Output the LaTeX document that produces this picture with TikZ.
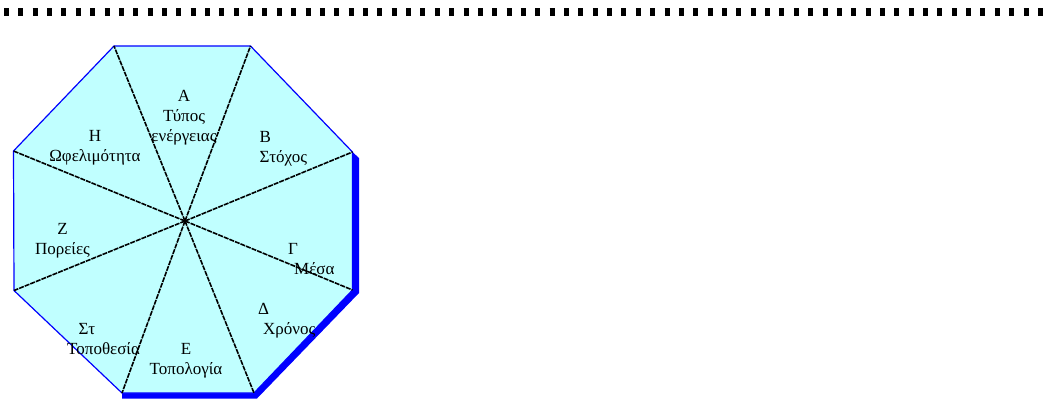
\documentclass[tikz,border=0pt]{standalone}
\usepackage{fontspec}
\setmainfont{Liberation Serif}
\usepackage{xcolor}
\usepackage{tikz}
\definecolor{octfill}{RGB}{192,255,255}
\definecolor{octedge}{RGB}{0,0,255}
\tikzset{
  spoke/.style={draw=black, line width=1.6pt, dash pattern=on 5pt off 1pt},
  lbl/.style={inner sep=0pt, align=center}
}

\begin{document}
\begin{tikzpicture}[x=1pt, y=-1pt, font=\fontsize{17}{20}\selectfont]
  \useasboundingbox (0,0) rectangle (1047,400);

  % Διακεκομμένη γραμμή
  \coordinate (dl) at (4,11.5);
  \coordinate (dr) at (1047,11.5);
  \draw[line width=8pt, dash pattern=on 5pt off 9.36pt] (dl) -- (dr);

  % Οκτάγωνο
  \coordinate (P1) at (114,46);
  \coordinate (P2) at (250.5,46);
  \coordinate (P3) at (352.5,152);
  \coordinate (P4) at (352.5,290);
  \coordinate (P5) at (254,393);
  \coordinate (P6) at (122,393);
  \coordinate (P7) at (14,290.5);
  \coordinate (P8) at (13.5,151);
  \coordinate (O) at (185,221);
  \fill[octedge] (P3) -- (359,158) -- (359,293) -- (257,398.5) -- (122,398.5)
    -- (P6) -- (P5) -- (P4) -- cycle;
  \draw[octedge, fill=octfill, line width=1.2pt]
    (P1) -- (P2) -- (P3) -- (P4) -- (P5) -- (P6) -- (P7) -- (P8) -- cycle;
  \foreach \i in {1,...,8}
    \draw[spoke] (O) -- (P\i);
  \fill (O) circle (2pt);

  % Τομείς
  \node[lbl, anchor=north] (A) at (184,90) {Α\\Τύπος\\ενέργειας};
  \node[lbl, anchor=north] (H) at (95,130) {Η\\Ωφελιμότητα};
  \node[lbl, align=left, anchor=north west] (B) at (259.5,131) {Β\\Στόχος};
  \node[lbl, anchor=north] (Z) at (62.5,223) {Ζ\\Πορείες};
  \node[lbl, align=left, anchor=north west] (G) at (288,243) {Γ\\\hspace*{6pt}Μέσα};
  \node[lbl, align=left, anchor=north west] (D) at (258,303) {Δ\\\hspace*{5pt}Χρόνος};
  \node[lbl, align=left, anchor=north west] (St) at (67,323) {\hspace*{11.5pt}Στ\\Τοποθεσία};
  \node[lbl, anchor=north] (E) at (186,343) {Ε\\Τοπολογία};
\end{tikzpicture}
\end{document}
